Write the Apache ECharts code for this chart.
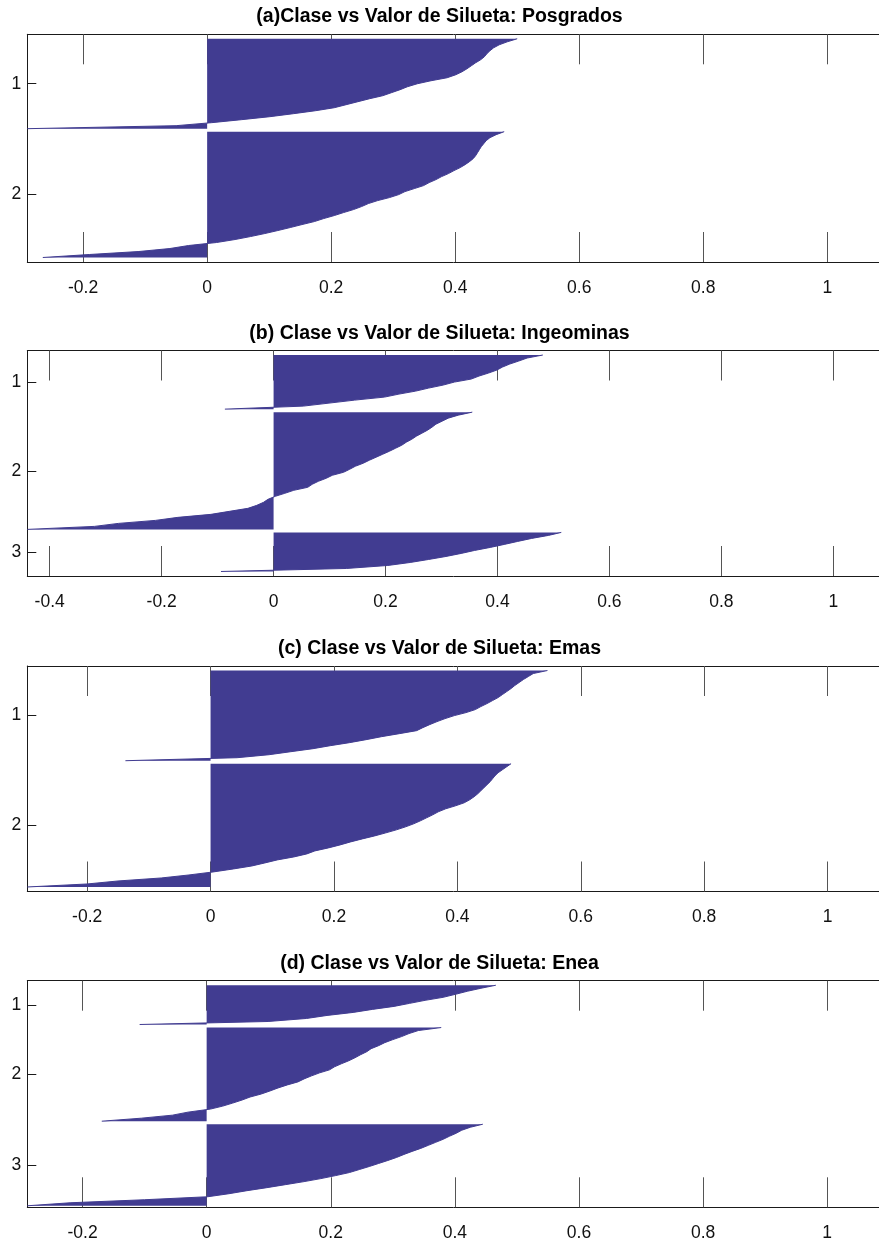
<!DOCTYPE html>
<html>
<head>
<meta charset="utf-8">
<title>Clase vs Valor de Silueta</title>
<script src="https://cdn.jsdelivr.net/npm/echarts@6/dist/echarts.min.js"></script>
<style>
  html, body { margin: 0; padding: 0; background: #ffffff; overflow: hidden; }
  #chart { width: 879px; height: 1243px; }
</style>
</head>
<body>
<div id="chart"></div>
<script>
// Silhouette values per cluster, sorted from highest to lowest (top to bottom).
const posgrados1 = [0.500, 0.484, 0.471, 0.462, 0.456, 0.451, 0.447, 0.441, 0.433, 0.426,
  0.419, 0.411, 0.401, 0.387, 0.361, 0.339, 0.323, 0.311, 0.297, 0.283,
  0.262, 0.243, 0.224, 0.205, 0.175, 0.139, 0.101, 0.055, 0.007, -0.05, -0.29];
const posgrados2 = [0.479, 0.466, 0.456, 0.450, 0.446, 0.442, 0.439, 0.436, 0.433, 0.429,
  0.423, 0.416, 0.408, 0.398, 0.389, 0.378, 0.369, 0.358, 0.349, 0.334,
  0.319, 0.309, 0.294, 0.275, 0.260, 0.249, 0.236, 0.220, 0.205, 0.188,
  0.173, 0.153, 0.134, 0.114, 0.093, 0.070, 0.045, 0.015,
  -0.03, -0.06, -0.11, -0.19, -0.265];

const ingeominas1 = [0.481, 0.453, 0.438, 0.422, 0.409, 0.399, 0.384, 0.367, 0.353, 0.323,
  0.303, 0.277, 0.254, 0.224, 0.198, 0.145, 0.099, 0.053, -0.087];
const ingeominas2 = [0.355, 0.330, 0.312, 0.301, 0.290, 0.283, 0.275, 0.265, 0.255, 0.247,
  0.237, 0.229, 0.218, 0.207, 0.195, 0.183, 0.171, 0.160, 0.146, 0.136,
  0.125, 0.105, 0.094, 0.080, 0.069, 0.061, 0.036, 0.020, 0.003,
  -0.01, -0.018, -0.03, -0.046, -0.079, -0.112, -0.171, -0.211, -0.277, -0.32, -0.44];
const ingeominas3 = [0.514, 0.491, 0.461, 0.436, 0.412, 0.387, 0.359, 0.335, 0.308, 0.277,
  0.244, 0.204, 0.130, -0.094];

const emas1 = [0.546, 0.523, 0.515, 0.507, 0.500, 0.493, 0.487, 0.480, 0.473, 0.466,
  0.457, 0.448, 0.438, 0.429, 0.414, 0.395, 0.380, 0.367, 0.355, 0.344,
  0.334, 0.306, 0.277, 0.252, 0.225, 0.194, 0.166, 0.130, 0.095, 0.043, -0.138];
const emas2 = [0.487, 0.480, 0.473, 0.466, 0.461, 0.457, 0.453, 0.448, 0.443, 0.438,
  0.433, 0.427, 0.420, 0.411, 0.397, 0.381, 0.369, 0.360, 0.350, 0.340,
  0.329, 0.316, 0.301, 0.284, 0.266, 0.246, 0.227, 0.210, 0.191, 0.169,
  0.156, 0.135, 0.108, 0.088, 0.067, 0.037, 0.004,
  -0.035, -0.08, -0.15, -0.2, -0.297];

const enea1 = [0.466, 0.442, 0.420, 0.401, 0.381, 0.352, 0.327, 0.302, 0.267, 0.236,
  0.194, 0.161, 0.099, -0.108];
const enea2 = [0.378, 0.341, 0.326, 0.314, 0.300, 0.287, 0.277, 0.265, 0.258, 0.248,
  0.239, 0.229, 0.217, 0.206, 0.198, 0.182, 0.169, 0.157, 0.147, 0.130,
  0.115, 0.102, 0.088, 0.070, 0.057, 0.042, 0.026, 0.006,
  -0.03, -0.055, -0.105, -0.169];
const enea3 = [0.445, 0.425, 0.411, 0.402, 0.391, 0.381, 0.369, 0.357, 0.345, 0.331,
  0.318, 0.306, 0.292, 0.277, 0.262, 0.246, 0.230, 0.208, 0.184, 0.157,
  0.127, 0.097, 0.065, 0.036, 0.002, -0.10, -0.22, -0.289];

// Titles, cluster tick labels and silhouette-axis tick values
const titles = [
  '(a)Clase vs Valor de Silueta: Posgrados',
  '(b) Clase vs Valor de Silueta: Ingeominas',
  '(c) Clase vs Valor de Silueta: Emas',
  '(d) Clase vs Valor de Silueta: Enea'
];
const clusterLabels2 = ['1', '2'];
const clusterLabels3 = ['1', '2', '3'];
const xTickValues = [-0.4, -0.2, 0, 0.2, 0.4, 0.6, 0.8, 1];
const X_MAX = 1.1;

// Layout of each subplot (pixels) and number of row slots on its vertical axis
const panels = [
  { title: titles[0], clusters: [posgrados1, posgrados2], labels: clusterLabels2,
    top: 34.3, height: 227.7, slots: 76, titleY: 17 },
  { title: titles[1], clusters: [ingeominas1, ingeominas2, ingeominas3], labels: clusterLabels3,
    top: 350.5, height: 225.5, slots: 75, titleY: 334 },
  { title: titles[2], clusters: [emas1, emas2], labels: clusterLabels2,
    top: 666, height: 225.5, slots: 75, titleY: 649 },
  { title: titles[3], clusters: [enea1, enea2, enea3], labels: clusterLabels3,
    top: 980.7, height: 226.6, slots: 75, titleY: 964 }
];

const FONT = 'Liberation Sans, Arial, Helvetica, sans-serif';
const BAR_COLOR = '#413c91';
const AXIS_COLOR = '#1a1a1a';
const TICK_COLOR = '#555555';
const GRID_LEFT = 27.3;
const GRID_WIDTH = 862;   // the axes box runs past the right edge of the page

const option = {
  animation: false,
  backgroundColor: '#ffffff',
  title: [], grid: [], xAxis: [], yAxis: [], series: []
};

panels.forEach((p, i) => {
  const S = p.slots;
  const allValues = p.clusters.flat();
  const xMin = Math.min(...allValues);
  const ticks = xTickValues.filter((t) => t >= xMin && t <= X_MAX);

  option.title.push({
    text: p.title, left: 'center', top: p.titleY - 11, padding: 0,
    textStyle: { fontFamily: FONT, fontSize: 19.5, fontWeight: 'bold', color: '#000', lineHeight: 22 }
  });
  option.grid.push({
    left: GRID_LEFT, top: p.top, width: GRID_WIDTH, height: p.height,
    containLabel: false, outerBoundsMode: 'none'
  });

  const xBase = {
    type: 'value', gridIndex: i, min: xMin, max: X_MAX,
    splitLine: { show: false },
    axisLine: { show: true, onZero: false, lineStyle: { color: AXIS_COLOR, width: 1 } },
    axisTick: { show: true, inside: true, length: 30, customValues: ticks,
      lineStyle: { color: TICK_COLOR, width: 1 } },
    z: 0
  };
  option.xAxis.push(Object.assign({}, xBase, {
    position: 'bottom',
    axisLabel: { show: true, margin: 17, customValues: ticks,
      fontFamily: FONT, fontSize: 17.5, color: '#111' }
  }));
  option.xAxis.push(Object.assign({}, xBase, { position: 'top', axisLabel: { show: false } }));

  // one category per row slot; rows of every cluster follow one another
  const slotIds = Array.from({ length: S }, (_, j) => 'r' + j);
  option.yAxis.push({ type: 'category', gridIndex: i, inverse: true, data: slotIds, show: false, boundaryGap: true });

  let start = 1;
  const mids = [];
  p.clusters.forEach((vals) => {
    const data = new Array(S).fill(null);
    vals.forEach((v, k) => { data[start + k] = v; });
    mids.push(start + (vals.length - 1) / 2 + 0.5);
    option.series.push({
      type: 'line', xAxisIndex: 2 * i, yAxisIndex: 2 * i, data: data,
      symbol: 'none', showSymbol: false, connectNulls: false, silent: true, z: 2,
      lineStyle: { color: BAR_COLOR, width: 1 },
      areaStyle: { color: BAR_COLOR, opacity: 1 }
    });
    start += vals.length;
  });

  option.yAxis.push({
    type: 'value', gridIndex: i, inverse: true, min: 0, max: S, position: 'left',
    splitLine: { show: false },
    axisLine: { show: true, onZero: false, lineStyle: { color: AXIS_COLOR, width: 1 } },
    axisTick: { show: true, inside: true, length: 9, customValues: mids, lineStyle: { color: AXIS_COLOR } },
    axisLabel: {
      show: true, margin: 6, customValues: mids, fontFamily: FONT, fontSize: 17.5, color: '#111',
      formatter: (v) => {
        let best = 0;
        mids.forEach((m, k) => { if (Math.abs(m - v) < Math.abs(mids[best] - v)) best = k; });
        return p.labels[best];
      }
    },
    z: 0
  });
});

const chart = echarts.init(document.getElementById('chart'), null, { renderer: 'canvas' });
chart.setOption(option);
</script>
</body>
</html>
